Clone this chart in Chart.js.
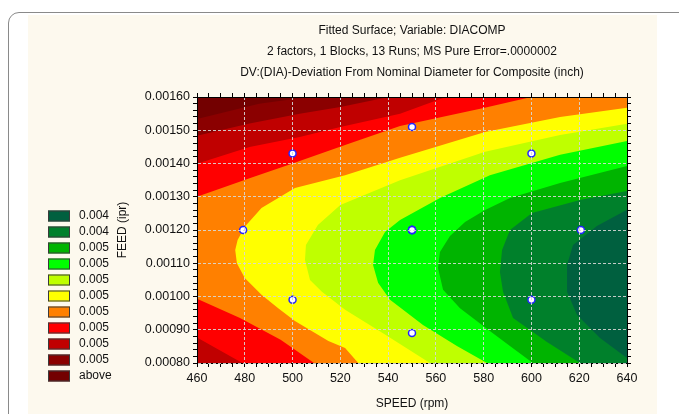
<!DOCTYPE html>
<html>
<head>
<meta charset="utf-8">
<script src="https://cdn.jsdelivr.net/npm/chart.js@4.4.1/dist/chart.umd.min.js"></script>
<style>
  html, body { margin: 0; padding: 0; background: #fff; width: 679px; height: 414px; overflow: hidden; }
  .frame { position: absolute; left: 8px; top: 12px; width: 760px; height: 480px; border: 1.5px solid #8a8a8a; border-radius: 11px; }
  .panel { position: absolute; left: 28px; top: 15px; width: 629px; height: 420px; background: #fdf9ee; }
  canvas { position: absolute; left: 0; top: 0; }
</style>
</head>
<body>
<div class="frame"></div>
<div class="panel"></div>
<canvas id="surface" width="679" height="414"></canvas>
<script>
  // MARK: datos
  const titleLines = [
    'Fitted Surface; Variable: DIACOMP',
    '2 factors, 1 Blocks, 13 Runs; MS Pure Error=.0000002',
    'DV:(DIA)-Deviation From Nominal Diameter for Composite (inch)'
  ];
  const speedTicks = [460, 480, 500, 520, 540, 560, 580, 600, 620, 640];
  const feedTicks = [0.0008, 0.0009, 0.0010, 0.0011, 0.0012, 0.0013, 0.0014, 0.0015, 0.0016];
  const legendLabels = ['0.004', '0.004', '0.005', '0.005', '0.005', '0.005', '0.005', '0.005', '0.005', '0.005', 'above'];

  // 13 runs (5 replicas at the centre)
  const runSpeed = [479.3, 500, 500, 550, 550, 550, 550, 550, 550, 550, 600, 600, 620.7];
  const runFeed  = [0.00120, 0.00143, 0.00099, 0.00151, 0.00120, 0.00120, 0.00120, 0.00120, 0.00120, 0.00089, 0.00143, 0.00099, 0.00120];

  // contour boundaries [speed, feed], from the upper arm round to the lower arm
  const iso1 = [[517, 0.00161], [486, 0.00158], [458, 0.00153]];
  const iso2 = [[547, 0.00161], [520, 0.00157], [503, 0.00155], [482, 0.00152], [458, 0.00148]];
  const iso3 = [[568, 0.00161], [545, 0.00155], [520, 0.00151], [503, 0.00148], [482, 0.00145], [458, 0.001395],
                [458, 0.000885], [479, 0.0008], [480, 0.00079]];
  const iso4 = [[606, 0.00161], [580, 0.001567], [545, 0.001513], [522, 0.001456], [500, 0.0014], [482, 0.001356],
                [458, 0.001295], [458, 0.001], [478, 0.000935], [495, 0.00087], [509, 0.0008], [510, 0.00079]];
  const iso5 = [[642, 0.00157], [612, 0.00154], [580.6, 0.001495], [545, 0.001417], [522, 0.001365], [501, 0.001326],
                [487, 0.001266], [480, 0.00121], [477, 0.00117], [476, 0.00114], [476.7, 0.0011], [480, 0.001056],
                [487, 0.001005], [494, 0.000965], [501, 0.000926], [515, 0.000866], [522, 0.000845], [527.5, 0.0008], [528, 0.00079]];
  const iso6 = [[642, 0.001522], [612, 0.001486], [580.6, 0.001435], [545, 0.00135], [520, 0.001275], [510.6, 0.001215],
                [505.6, 0.001155], [505.2, 0.00111], [507.3, 0.00105], [512.3, 0.001014], [522, 0.00096],
                [538.7, 0.000886], [557.5, 0.0008], [558, 0.00079]];
  const iso7 = [[642, 0.001471], [612, 0.001426], [582.6, 0.001365], [561.7, 0.001296], [545, 0.00123], [538.7, 0.001194],
                [534.5, 0.00114], [533.7, 0.001095], [535.8, 0.001041], [540.8, 0.00099], [554.6, 0.000914],
                [568.8, 0.000851], [581.4, 0.0008], [582, 0.00079]];
  const iso8 = [[642, 0.001396], [612, 0.001341], [591, 0.001296], [580.6, 0.00126], [572.2, 0.001224], [565.9, 0.001182],
                [561.7, 0.001134], [560.9, 0.001086], [563, 0.00102], [570.1, 0.000965], [582.6, 0.000896],
                [591, 0.000851], [600.6, 0.0008], [601, 0.00079]];
  const iso9 = [[642, 0.00132], [620.3, 0.00129], [600.2, 0.001251], [591, 0.0012], [587.7, 0.00114], [586.8, 0.001074],
                [588.1, 0.001014], [592.3, 0.000935], [606.5, 0.000863], [620.3, 0.0008], [621, 0.00079]];
  const iso10 = [[642, 0.001269], [627.4, 0.001212], [617.4, 0.001155], [614.9, 0.001095], [614.9, 0.001014],
                 [619.1, 0.000944], [628.7, 0.000875], [642, 0.000804]];

  // colores de la leyenda, de arriba a abajo
  const bandColors = ['#00603f', '#00802b', '#00b400', '#00ff00', '#bfff00', '#ffff00',
                      '#ff8000', '#ff0000', '#c00000', '#8b0000', '#730000'];

  const FONT = '"Liberation Sans", Arial, sans-serif';
  const X_MIN = speedTicks[0], X_MAX = speedTicks[speedTicks.length - 1];
  const Y_MIN = feedTicks[0], Y_MAX = feedTicks[feedTicks.length - 1];

  Chart.defaults.font.family = FONT;
  Chart.defaults.font.size = 12;
  Chart.defaults.color = '#111';

  // MARK: ticks mayores + menores intermedios
  function withMinorTicks(majors, parts) {
    const out = [];
    majors.forEach((v, i) => {
      out.push({ value: v, major: true });
      if (i < majors.length - 1) {
        const step = (majors[i + 1] - v) / parts;
        for (let k = 1; k < parts; k++) out.push({ value: v + k * step, major: false });
      }
    });
    return out;
  }

  // polygon closed outside the plot on the right / bottom
  function region(points) {
    const pts = [{ x: X_MAX + 60, y: Y_MAX + 0.0002 }];
    points.forEach(p => pts.push({ x: p[0], y: p[1] }));
    pts.push({ x: X_MIN - 20, y: Y_MIN - 0.0002 });
    pts.push({ x: X_MAX + 60, y: Y_MIN - 0.0002 });
    return pts;
  }

  const isoLines = [iso1, iso2, iso3, iso4, iso5, iso6, iso7, iso8, iso9, iso10];
  const contourSets = isoLines.map((iso, k) => ({
    type: 'line',
    label: legendLabels[9 - k],
    data: region(iso),
    backgroundColor: bandColors[9 - k],
    borderWidth: 0,
    pointRadius: 0,
    tension: 0,
    fill: 'shape',
    order: 20 - k
  }));

  const gridColor = ctx => (ctx.tick && ctx.tick.major) ? 'rgba(215,215,215,0.9)' : 'rgba(0,0,0,0)';
  const tickFont = { size: 12.5 };

  const areaBackground = {
    id: 'areaBackground',
    beforeDatasetsDraw(chart) {
      const { ctx, chartArea: a } = chart;
      ctx.save();
      ctx.fillStyle = bandColors[10];
      ctx.fillRect(a.left, a.top, a.right - a.left, a.bottom - a.top);
      ctx.restore();
    }
  };

  const levelLegend = {
    id: 'levelLegend',
    afterDraw(chart) {
      const ctx = chart.ctx;
      ctx.save();
      ctx.font = '12px ' + FONT;
      ctx.textBaseline = 'middle';
      legendLabels.forEach((label, i) => {
        const y = 216 + i * 16;
        ctx.fillStyle = bandColors[i];
        ctx.fillRect(48, y - 5.5, 22, 11);
        ctx.strokeStyle = '#3a3a3a';
        ctx.lineWidth = 1;
        ctx.strokeRect(48.5, y - 5, 21, 10);
        ctx.fillStyle = '#111';
        ctx.fillText(label, 79, y);
      });
      ctx.restore();
    }
  };

  function sideAxis(axis, position, ticks, parts, size) {
    return {
      type: 'linear', axis: axis, position: position,
      min: axis === 'x' ? X_MIN : Y_MIN, max: axis === 'x' ? X_MAX : Y_MAX,
      afterBuildTicks: s => { s.ticks = withMinorTicks(ticks, parts); },
      afterFit: s => { if (axis === 'x') s.height = size; else s.width = size; },
      ticks: { display: false, autoSkip: false },
      grid: { drawOnChartArea: false, tickLength: 4, tickColor: '#000', z: 1 },
      border: { display: true, color: '#000', width: 1, z: 1 }
    };
  }

  const ctx = document.getElementById('surface').getContext('2d');
  window.surfaceChart = new Chart(ctx, {
    type: 'line',
    data: {
      datasets: [
        {
          type: 'scatter',
          label: 'runs',
          data: runSpeed.map((s, i) => ({ x: s, y: runFeed[i] })),
          pointRadius: 3.5,
          pointBorderWidth: 1.5,
          pointBackgroundColor: '#ffffff',
          pointBorderColor: '#2424ff',
          order: 0
        },
        ...contourSets
      ]
    },
    options: {
      responsive: false,
      animation: false,
      events: [],
      layout: { padding: { left: 110, right: 0, top: 0, bottom: 0 } },
      plugins: {
        legend: { display: false },
        tooltip: { enabled: false },
        title: {
          display: true,
          text: titleLines,
          fullSize: false,
          color: '#111',
          font: { size: 12, weight: 'normal', lineHeight: 1.75 },
          padding: { top: 20.5, bottom: 8.5 }
        }
      },
      scales: {
        x: {
          type: 'linear', position: 'bottom', min: X_MIN, max: X_MAX,
          afterBuildTicks: s => { s.ticks = withMinorTicks(speedTicks, 4); },
          afterFit: s => { s.height = 51; },
          ticks: {
            autoSkip: false, maxRotation: 0, padding: 4, font: tickFont,
            callback: (v, i, t) => t[i].major ? String(v) : ''
          },
          grid: { color: gridColor, lineWidth: 1, tickColor: '#000', tickLength: 4, tickBorderDash: [], z: 1 },
          border: { display: true, color: '#000', width: 1, dash: [3, 2], z: 1 },
          title: { display: true, text: 'SPEED (rpm)', padding: { top: 0, bottom: 2.8 } }
        },
        y: {
          type: 'linear', position: 'left', min: Y_MIN, max: Y_MAX,
          afterBuildTicks: s => { s.ticks = withMinorTicks(feedTicks, 5); },
          afterFit: s => { s.width = 87; },
          ticks: {
            autoSkip: false, padding: 3, font: tickFont,
            callback: (v, i, t) => t[i].major ? v.toFixed(5) : ''
          },
          grid: { color: gridColor, lineWidth: 1, tickColor: '#000', tickLength: 4, tickBorderDash: [], z: 1 },
          border: { display: true, color: '#000', width: 1, dash: [3, 2], z: 1 },
          title: { display: true, text: 'FEED (ipr)', padding: { top: 5.8, bottom: 0 } }
        },
        x2: sideAxis('x', 'top', speedTicks, 4, 5),
        y2: sideAxis('y', 'right', feedTicks, 5, 52)
      }
    },
    plugins: [areaBackground, levelLegend]
  });
</script>
</body>
</html>
